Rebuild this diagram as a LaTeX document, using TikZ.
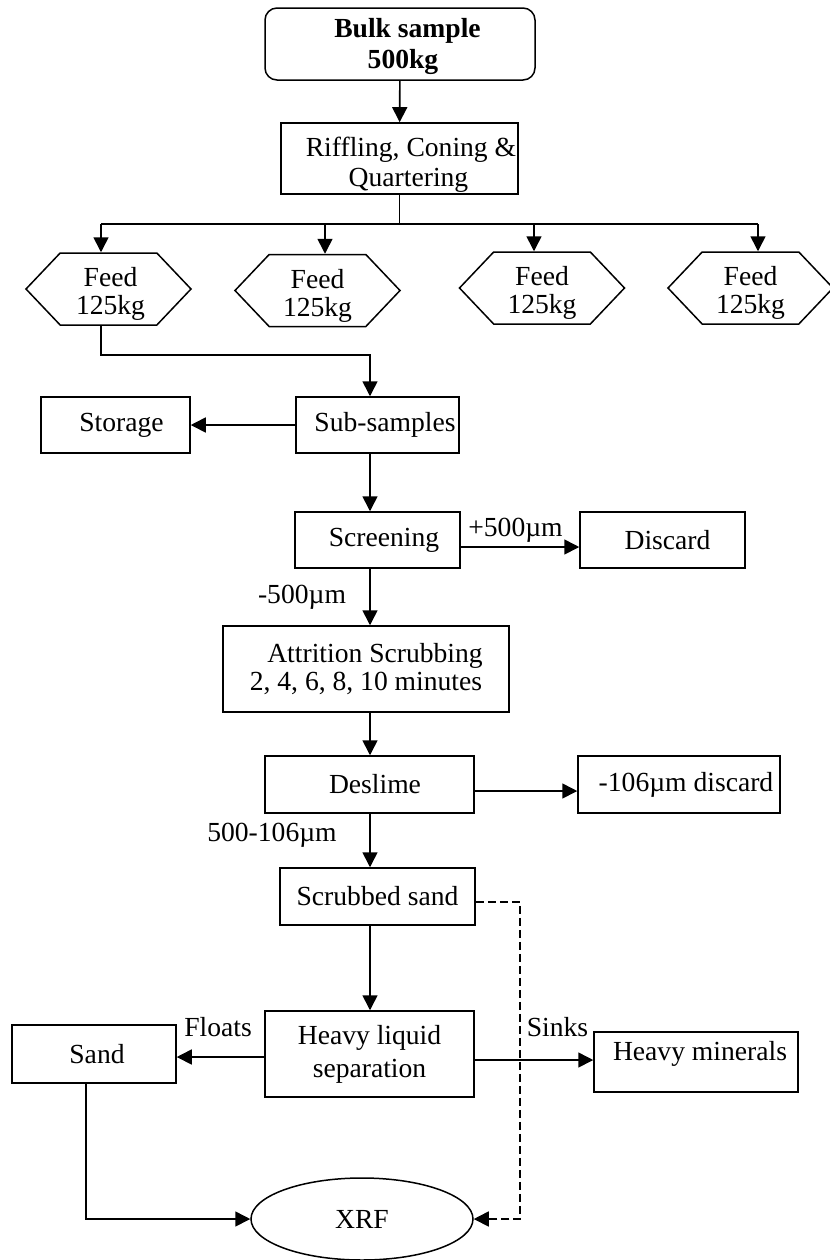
\documentclass[tikz,border=0pt]{standalone}
\usepackage{fontspec}
\setmainfont{Liberation Serif}
\usetikzlibrary{arrows.meta,shapes.geometric,shapes.symbols}
\begin{document}
\begin{tikzpicture}[x=0.5pt,y=-0.5pt,
  every node/.style={font=\fontsize{13.8}{14}\selectfont},
  box/.style={draw, line width=0.75pt, rectangle, inner sep=1pt, align=center},
  rbox/.style={box, rounded corners=6pt},
  hexbox/.style={draw, line width=0.75pt, signal, signal to=west and east,
    signal pointer angle=93, inner sep=0pt, align=center,
    minimum width=82.5pt, minimum height=36pt},
  lbl/.style={inner sep=0pt},
  ln/.style={line width=0.8pt},
  arr/.style={ln, -{Triangle[length=7.5pt,width=7.5pt]}},
  dsh/.style={arr, dash pattern=on 4pt off 2pt}]
\useasboundingbox (0,0) rectangle (830,1260);
\fill[white] (0,0) rectangle (830,1260);
\clip (0,0) rectangle (830,1260);

% sampling stage
\node[rbox, minimum width=135pt, minimum height=36pt,
  font=\fontsize{13.8}{15.5}\selectfont\bfseries] (bulk) at (400,44)
  {\rule{0pt}{12.5pt}\hspace*{7.5pt}Bulk sample\\\hspace*{3pt}500kg};
\node[box, inner xsep=0pt, minimum width=118.5pt, minimum height=35.5pt,
  font=\fontsize{13.8}{15}\selectfont] (riff) at (399.5,158.5)
  {\rule{0pt}{15.6pt}\hspace*{11.5pt}Riffling, Coning \&\\\hspace*{9pt}Quartering};
\draw[arr] (bulk) -- (riff);

\node[hexbox] (f1) at (108.5,289) {\rule{0pt}{14.5pt}\hspace*{2pt}Feed\\\hspace*{2pt}125kg};
\node[hexbox] (f2) at (317.5,290.5) {\rule{0pt}{14.5pt}Feed\\125kg};
\node[hexbox] (f3) at (542,288) {\rule{0pt}{14.5pt}Feed\\125kg};
\node[hexbox] (f4) at (750.5,288) {\rule{0pt}{14.5pt}Feed\\125kg};

\coordinate (hub) at (400,224);
\coordinate (j1) at (101,224);
\coordinate (j2) at (325,224);
\coordinate (j3) at (534,224);
\coordinate (j4) at (758,224);
\draw[ln] (riff.south) -- (riff.south |- hub);
\draw[ln] (j1) -- (j4);
\draw[arr] (j1) -- (j1 |- f1.north);
\draw[arr] (j2) -- (j2 |- f2.north);
\draw[arr] (j3) -- (j3 |- f3.north);
\draw[arr] (j4) -- (j4 |- f4.north);

% main processing column
\coordinate (k) at (370,355);
\node[box, minimum width=81.5pt, minimum height=28pt] (sub) at (377.5,425)
  {\hspace*{7.5pt}Sub-samples};
\node[box, minimum width=74.5pt, minimum height=28pt] (stor) at (115.5,425)
  {\hspace*{6pt}Storage};
\draw[arr] (j1 |- f1.south) -- (j1 |- k) -- (k) -- (k |- sub.north);
\draw[arr] (sub.west) -- (stor.east);

\node[box, minimum width=82.5pt, minimum height=28pt] (scr) at (377.5,540)
  {\hspace*{6.5pt}Screening};
\node[box, minimum width=82.5pt, minimum height=28pt] (disc) at (662.5,540)
  {\hspace*{5pt}Discard};
\draw[arr] (k |- sub.south) -- (k |- scr.north);
\draw[arr] ([yshift=-3.5pt]scr.east) -- ([yshift=-3.5pt]disc.west);
\node[lbl] (p500) at (515.5,530) {+500µm};
\node[lbl] (m500) at (302,597) {-500µm};

\node[box, minimum width=143pt, minimum height=43pt] (att) at (366,669)
  {\hspace*{9pt}Attrition Scrubbing\\2, 4, 6, 8, 10 minutes};
\draw[arr] (k |- scr.south) -- (k |- att.north);

\node[box, minimum width=104.5pt, minimum height=28.5pt] (des) at (369.5,784.5)
  {\hspace*{5.5pt}Deslime};
\node[box, minimum width=101pt, minimum height=28.5pt] (dis2) at (679,784.5)
  {\hspace*{7pt}-106µm discard};
\draw[arr] (k |- att.south) -- (k |- des.north);
\draw[arr] ([yshift=-3.25pt]des.east) -- ([yshift=-3.25pt]dis2.west);
\node[lbl] (m106) at (272,835) {500-106µm};

\node[box, minimum width=97.5pt, minimum height=28.5pt] (scrub) at (377.5,896.5)
  {Scrubbed sand};
\draw[arr] (k |- des.south) -- (k |- scrub.north);

% separation and analysis
\node[box, minimum width=104.5pt, minimum height=43pt,
  font=\fontsize{13.8}{16.5}\selectfont] (hls) at (369.5,1054)
  {Heavy liquid\\separation};
\draw[arr] (k |- scrub.south) -- (k |- hls.north);

\node[box, minimum width=82pt, minimum height=29pt] (sand) at (94,1054)
  {\hspace*{3pt}Sand};
\node[box, minimum width=102pt, minimum height=30pt,
  text height=9pt, text depth=11pt] (hm) at (696,1062)
  {\hspace*{4pt}Heavy minerals};
\draw[arr] ([yshift=-1.5pt]hls.west) -- ([yshift=-1.5pt]hls.west -| sand.east);
\draw[arr] ([yshift=-3pt]hls.east) -- ([yshift=-3pt]hls.east -| hm.west);
\node[lbl] (flt) at (218,1027) {Floats};
\node[lbl] (snk) at (557.5,1027) {Sinks};

\node[draw, ellipse, line width=0.75pt, inner sep=0pt,
  minimum width=111pt, minimum height=41pt] (xrf) at (362,1219) {XRF};
\coordinate (sx) at (86,1219);
\draw[arr] (sx |- sand.south) -- (sx) -- (xrf.west);
\coordinate (dx) at (520,902);
\draw[dsh] ([yshift=-2.75pt]scrub.east) -- (dx) -- (dx |- xrf.east) -- (xrf.east);
\end{tikzpicture}
\end{document}
